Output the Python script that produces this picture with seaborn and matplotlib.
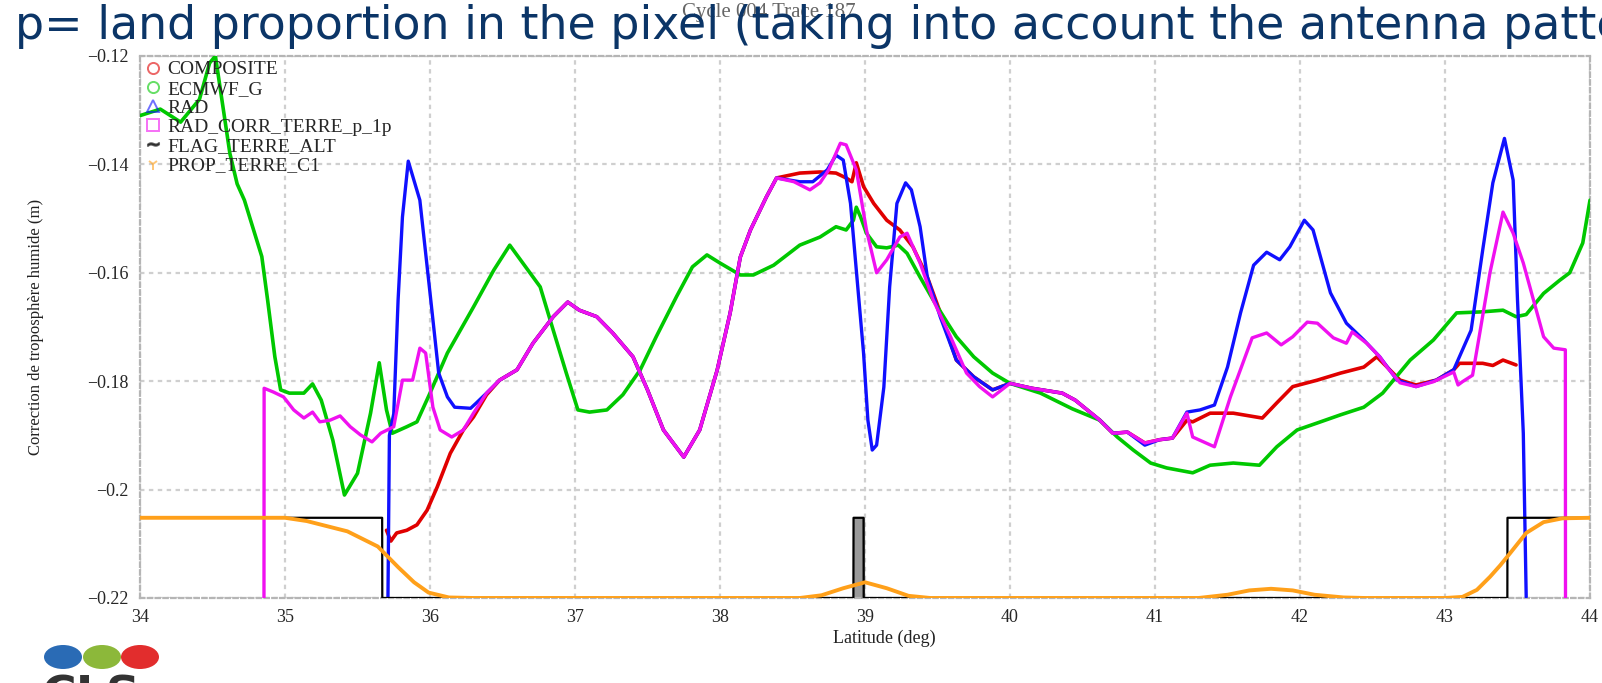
import matplotlib
matplotlib.use("Agg")
import matplotlib.pyplot as plt
import seaborn as sns
import pandas as pd
from matplotlib.lines import Line2D
from matplotlib.patches import Ellipse
from matplotlib.font_manager import FontProperties

# ---------------- data (latitude in deg, correction in m) ----------------
ecmwf_lat = [34.0, 34.14, 34.28, 34.41, 34.48, 34.52, 34.62, 34.67, 34.72, 34.84, 34.88, 34.93,
             34.97, 35.03, 35.13, 35.19, 35.25, 35.33, 35.41, 35.50, 35.59, 35.65, 35.70, 35.74,
             35.84, 35.91, 36.0, 36.12, 36.30, 36.44, 36.55, 36.64, 36.76, 36.85, 36.94, 37.02,
             37.10, 37.22, 37.33, 37.45, 37.56, 37.70, 37.81, 37.91, 38.0, 38.14, 38.23, 38.37,
             38.55, 38.69, 38.80, 38.87, 38.92, 38.94, 38.97, 39.01, 39.08, 39.15, 39.23, 39.29,
             39.38, 39.47, 39.57, 39.63, 39.75, 39.88, 40.0, 40.21, 40.43, 40.62, 40.74, 40.85,
             40.97, 41.08, 41.26, 41.38, 41.54, 41.72, 41.84, 41.98, 42.12, 42.28, 42.44, 42.57,
             42.76, 42.92, 43.08, 43.26, 43.40, 43.49, 43.56, 43.68, 43.79, 43.86, 43.95, 44.0]
ecmwf_val = [-0.1310, -0.1298, -0.1322, -0.1280, -0.1213, -0.1200, -0.1380, -0.1436, -0.1466, -0.1570, -0.1650, -0.1755,
             -0.1816, -0.1822, -0.1822, -0.1805, -0.1835, -0.1909, -0.2010, -0.1970, -0.1859, -0.1766, -0.1853, -0.1896,
             -0.1884, -0.1875, -0.1822, -0.1748, -0.1663, -0.1595, -0.1549, -0.1582, -0.1626, -0.1706, -0.1785, -0.1853,
             -0.1857, -0.1853, -0.1825, -0.1779, -0.1718, -0.1644, -0.1589, -0.1567, -0.1582, -0.1604, -0.1604, -0.1586,
             -0.1549, -0.1534, -0.1515, -0.1521, -0.1503, -0.1479, -0.1497, -0.1527, -0.1552, -0.1554, -0.1549, -0.1564,
             -0.1608, -0.1650, -0.1693, -0.1718, -0.1755, -0.1785, -0.1804, -0.1822, -0.1851, -0.1872, -0.1903, -0.1927,
             -0.1951, -0.1960, -0.1969, -0.1955, -0.1951, -0.1955, -0.1921, -0.1890, -0.1877, -0.1862, -0.1848, -0.1822,
             -0.1761, -0.1724, -0.1674, -0.1672, -0.1669, -0.1681, -0.1677, -0.1638, -0.1614, -0.1600, -0.1545, -0.1466]

composite_lat = [35.70, 35.73, 35.77, 35.84, 35.91, 35.98, 36.05, 36.14, 36.23, 36.30, 36.39, 36.48,
                 36.60, 36.71, 36.85, 36.95, 37.03, 37.15, 37.26, 37.40, 37.50, 37.61, 37.75, 37.86,
                 37.98, 38.07, 38.14, 38.21, 38.32, 38.39, 38.55, 38.69, 38.80, 38.87, 38.91, 38.94,
                 38.99, 39.06, 39.15, 39.24, 39.33, 39.43, 39.52, 39.63, 39.75, 39.88, 40.0, 40.15,
                 40.36, 40.45, 40.62, 40.71, 40.81, 40.93, 41.03, 41.12, 41.22, 41.26, 41.38, 41.54,
                 41.74, 41.84, 41.95, 42.12, 42.28, 42.44, 42.53, 42.69, 42.80, 42.94, 43.06, 43.10,
                 43.26, 43.33, 43.40, 43.49]
composite_val = [-0.2075, -0.2095, -0.2080, -0.2075, -0.2065, -0.2038, -0.1995, -0.1933, -0.1890, -0.1866, -0.1825, -0.1798,
                 -0.1779, -0.1730, -0.1681, -0.1654, -0.1669, -0.1681, -0.1711, -0.1755, -0.1816, -0.1890, -0.1940, -0.1890,
                 -0.1780, -0.1674, -0.1571, -0.1521, -0.1460, -0.1425, -0.1416, -0.1414, -0.1416, -0.1425, -0.1432, -0.1397,
                 -0.1441, -0.1472, -0.1503, -0.1521, -0.1552, -0.1608, -0.1674, -0.1761, -0.1792, -0.1816, -0.1804, -0.1813,
                 -0.1822, -0.1835, -0.1872, -0.1896, -0.1894, -0.1914, -0.1908, -0.1905, -0.1872, -0.1875, -0.1859, -0.1859,
                 -0.1868, -0.1840, -0.1810, -0.1798, -0.1785, -0.1774, -0.1755, -0.1798, -0.1807, -0.1798, -0.1779, -0.1767,
                 -0.1767, -0.1771, -0.1761, -0.1770]

rad_lat = [35.71, 35.72, 35.75, 35.78, 35.81, 35.85, 35.93, 36.0, 36.06, 36.12, 36.17, 36.28,
           36.32, 36.39, 36.48, 36.60, 36.71, 36.85, 36.95, 37.03, 37.15, 37.26, 37.40, 37.50,
           37.61, 37.75, 37.86, 37.98, 38.07, 38.14, 38.21, 38.32, 38.39, 38.55, 38.64, 38.74,
           38.80, 38.85, 38.90, 38.94, 38.99, 39.02, 39.05, 39.08, 39.13, 39.17, 39.22, 39.28,
           39.32, 39.38, 39.43, 39.52, 39.63, 39.75, 39.88, 40.0, 40.15, 40.36, 40.45, 40.62,
           40.71, 40.81, 40.93, 41.03, 41.12, 41.22, 41.31, 41.41, 41.50, 41.59, 41.68, 41.77,
           41.86, 41.93, 42.03, 42.09, 42.21, 42.32, 42.44, 42.55, 42.67, 42.80, 42.94, 43.06,
           43.18, 43.26, 43.33, 43.41, 43.47, 43.50, 43.54, 43.56]
rad_val = [-0.2200, -0.1900, -0.1860, -0.1650, -0.1497, -0.1394, -0.1466, -0.1637, -0.1785, -0.1829, -0.1848, -0.1850,
           -0.1840, -0.1822, -0.1798, -0.1779, -0.1730, -0.1681, -0.1654, -0.1669, -0.1681, -0.1711, -0.1755, -0.1816,
           -0.1890, -0.1940, -0.1890, -0.1780, -0.1674, -0.1571, -0.1521, -0.1460, -0.1425, -0.1432, -0.1432, -0.1410,
           -0.1383, -0.1392, -0.1472, -0.1595, -0.1748, -0.1872, -0.1927, -0.1918, -0.1811, -0.1626, -0.1472, -0.1434,
           -0.1447, -0.1515, -0.1608, -0.1682, -0.1761, -0.1792, -0.1816, -0.1804, -0.1813, -0.1822, -0.1835, -0.1872,
           -0.1896, -0.1894, -0.1918, -0.1908, -0.1905, -0.1857, -0.1853, -0.1844, -0.1774, -0.1674, -0.1586, -0.1562,
           -0.1576, -0.1552, -0.1503, -0.1521, -0.1637, -0.1693, -0.1724, -0.1755, -0.1798, -0.1810, -0.1798, -0.1779,
           -0.1706, -0.1558, -0.1434, -0.1352, -0.1429, -0.1650, -0.1896, -0.2198]

radcorr_lat = [34.855, 34.856, 34.92, 34.99, 35.06, 35.13, 35.19, 35.24, 35.31, 35.38, 35.45, 35.52,
               35.60, 35.66, 35.75, 35.81, 35.88, 35.93, 35.97, 36.02, 36.07, 36.15, 36.23, 36.30,
               36.39, 36.48, 36.60, 36.71, 36.85, 36.95, 37.03, 37.15, 37.26, 37.40, 37.50, 37.61,
               37.75, 37.86, 37.98, 38.07, 38.14, 38.21, 38.32, 38.39, 38.51, 38.62, 38.69, 38.75,
               38.83, 38.87, 38.94, 39.01, 39.08, 39.15, 39.24, 39.29, 39.38, 39.47, 39.59, 39.70,
               39.79, 39.88, 40.0, 40.15, 40.36, 40.45, 40.62, 40.71, 40.81, 40.93, 41.03, 41.12,
               41.22, 41.26, 41.41, 41.52, 41.67, 41.77, 41.87, 41.95, 42.05, 42.12, 42.23, 42.32,
               42.36, 42.46, 42.55, 42.60, 42.69, 42.80, 42.92, 43.06, 43.09, 43.12, 43.19, 43.24,
               43.31, 43.40, 43.47, 43.54, 43.61, 43.68, 43.75, 43.83, 43.831]
radcorr_val = [-0.2200, -0.1813, -0.1820, -0.1829, -0.1853, -0.1868, -0.1857, -0.1875, -0.1872, -0.1864, -0.1884, -0.1899,
               -0.1912, -0.1896, -0.1884, -0.1798, -0.1798, -0.1739, -0.1748, -0.1848, -0.1890, -0.1903, -0.1890, -0.1859,
               -0.1822, -0.1798, -0.1779, -0.1730, -0.1681, -0.1654, -0.1669, -0.1681, -0.1711, -0.1755, -0.1816, -0.1890,
               -0.1940, -0.1890, -0.1780, -0.1674, -0.1571, -0.1521, -0.1460, -0.1425, -0.1432, -0.1447, -0.1434, -0.1410,
               -0.1361, -0.1364, -0.1410, -0.1521, -0.1600, -0.1576, -0.1534, -0.1527, -0.1582, -0.1650, -0.1718, -0.1785,
               -0.1810, -0.1829, -0.1804, -0.1813, -0.1822, -0.1835, -0.1872, -0.1896, -0.1894, -0.1914, -0.1908, -0.1905,
               -0.1859, -0.1903, -0.1921, -0.1829, -0.1720, -0.1711, -0.1733, -0.1718, -0.1691, -0.1693, -0.1720, -0.1730,
               -0.1709, -0.1730, -0.1755, -0.1774, -0.1803, -0.1810, -0.1801, -0.1783, -0.1807, -0.1801, -0.1789, -0.1711,
               -0.1600, -0.1488, -0.1527, -0.1582, -0.1650, -0.1718, -0.1739, -0.1742, -0.2200]

flag_lat = [34.0, 35.67, 35.671, 38.92, 38.921, 38.99, 38.991, 43.43, 43.431, 44.0]
flag_val = [-0.2052, -0.2052, -0.2200, -0.2200, -0.2052, -0.2052, -0.2200, -0.2200, -0.2052, -0.2052]

prop_lat = [34.0, 35.0, 35.15, 35.43, 35.64, 35.78, 35.89, 35.99, 36.13, 36.30, 38.55, 38.70,
            38.85, 39.0, 39.15, 39.30, 39.45, 41.30, 41.50, 41.65, 41.80, 41.95, 42.10, 42.30,
            42.45, 43.0, 43.12, 43.22, 43.31, 43.38, 43.45, 43.56, 43.68, 43.81, 44.0]
prop_val = [-0.2052, -0.2052, -0.2058, -0.2077, -0.2105, -0.2143, -0.2171, -0.2190, -0.2199, -0.2200, -0.2200, -0.2195,
            -0.2182, -0.2171, -0.2182, -0.2196, -0.2200, -0.2200, -0.2194, -0.2186, -0.2183, -0.2186, -0.2194, -0.2199,
            -0.2200, -0.2200, -0.2198, -0.2185, -0.2161, -0.2140, -0.2117, -0.2080, -0.2060, -0.2053, -0.2052]

series_names = ["COMPOSITE", "ECMWF_G", "RAD", "RAD_CORR_TERRE_p_1p", "FLAG_TERRE_ALT", "PROP_TERRE_C1"]
x_ticks = [34, 35, 36, 37, 38, 39, 40, 41, 42, 43, 44]
y_ticks = [-0.22, -0.20, -0.18, -0.16, -0.14, -0.12]
y_tick_labels = ["\u22120.22", "\u22120.2", "\u22120.18", "\u22120.16", "\u22120.14", "\u22120.12"]

# ---------------- style ----------------
sns.set_theme(style="white")
plt.rcParams["font.family"] = ["DejaVu Sans"]
serif = "Liberation Serif"

fig = plt.figure(figsize=(16.02, 6.83), dpi=100)
fig.patch.set_facecolor("white")
ax = fig.add_axes([140 / 1602, 85 / 683, 1450 / 1602, 542 / 683])

colors = {"COMPOSITE": "#e00000", "ECMWF_G": "#00c800", "RAD": "#1010ff",
          "RAD_CORR_TERRE_p_1p": "#f010f0", "FLAG_TERRE_ALT": "#000000", "PROP_TERRE_C1": "#ffa01a"}

data = {
    "COMPOSITE": (composite_lat, composite_val),
    "ECMWF_G": (ecmwf_lat, ecmwf_val),
    "RAD": (rad_lat, rad_val),
    "RAD_CORR_TERRE_p_1p": (radcorr_lat, radcorr_val),
    "FLAG_TERRE_ALT": (flag_lat, flag_val),
    "PROP_TERRE_C1": (prop_lat, prop_val),
}
widths = {"COMPOSITE": 2.6, "ECMWF_G": 2.6, "RAD": 2.4, "RAD_CORR_TERRE_p_1p": 2.4,
          "FLAG_TERRE_ALT": 1.6, "PROP_TERRE_C1": 2.8}

# narrow flagged bar near 39 deg (grey fill between its two edges)
ax.fill_between(flag_lat[4:6], flag_val[4:6], -0.22, color="#9a9a9a", zorder=2)

for i, name in enumerate(series_names):
    lat, val = data[name]
    df = pd.DataFrame({"lat": lat, "val": val})
    sns.lineplot(data=df, x="lat", y="val", ax=ax, color=colors[name], lw=widths[name],
                 estimator=None, sort=False, legend=False, zorder=3 + i)

ax.set_xlim(34, 44)
ax.set_ylim(-0.22, -0.12)
ax.set_xticks(x_ticks)
ax.set_xticklabels([str(t) for t in x_ticks], fontfamily=serif, fontsize=13)
ax.set_yticks(y_ticks)
ax.set_yticklabels(y_tick_labels, fontfamily=serif, fontsize=13)
ax.tick_params(length=0, pad=8)
ax.grid(True, color="#cfcfcf", linestyle=(0, (2, 2)), linewidth=1.6)
for sp in ax.spines.values():
    sp.set_color("#b5b5b5")
    sp.set_linestyle((0, (2, 1.5)))
    sp.set_linewidth(1.6)

ax.set_xlabel("Latitude (deg)", fontfamily=serif, fontsize=13, color="#222222")
ax.xaxis.set_label_coords(0.513, -0.058)
ax.set_ylabel("Correction de troposphère humide (m)", fontfamily=serif, fontsize=12, color="#222222")
ax.yaxis.set_label_coords(-0.066, 0.5)

# legend (markers only)
markers = {"COMPOSITE": "o", "ECMWF_G": "o", "RAD": "^", "RAD_CORR_TERRE_p_1p": "s",
           "FLAG_TERRE_ALT": "$\\sim$", "PROP_TERRE_C1": "1"}
handles = []
for name in series_names:
    h = Line2D([], [], linestyle="none", marker=markers[name], markersize=8,
               markerfacecolor="none" if markers[name] in ("o", "^", "s") else colors[name],
               markeredgecolor=colors[name], markeredgewidth=1.4, alpha=0.6)
    handles.append(h)
ax.legend(handles, series_names, loc="upper left", frameon=False,
          prop=FontProperties(family=serif, size=14), handlelength=0.8,
          handletextpad=0.35, labelspacing=0.08, borderaxespad=0.15, borderpad=0.1)

# titles
fig.text(769 / 1602, 1 - 13 / 683, "Cycle 004 Trace 187", ha="center", va="center",
         fontfamily=serif, fontsize=15, color="#666666")
fig.text(15 / 1602, 1 - 39 / 683,
         "p= land proportion in the pixel (taking into account the antenna pattern)",
         ha="left", va="baseline", fontsize=33, color="#0b3567", fontfamily="DejaVu Sans")

# logo
for cx, col in [(63, "#2a6bb5"), (102, "#8cb83a"), (140, "#e22d2d")]:
    fig.patches.append(Ellipse((cx / 1602, 1 - 657 / 683), 38 / 1602, 24 / 683,
                               transform=fig.transFigure, facecolor=col, edgecolor="none"))
fig.text(42 / 1602, 1 - 674 / 683, "CLS", ha="left", va="top", fontsize=34,
         fontweight="bold", color="#333333", fontfamily="DejaVu Sans")

fig.savefig("out.png", dpi=100, facecolor="white")
